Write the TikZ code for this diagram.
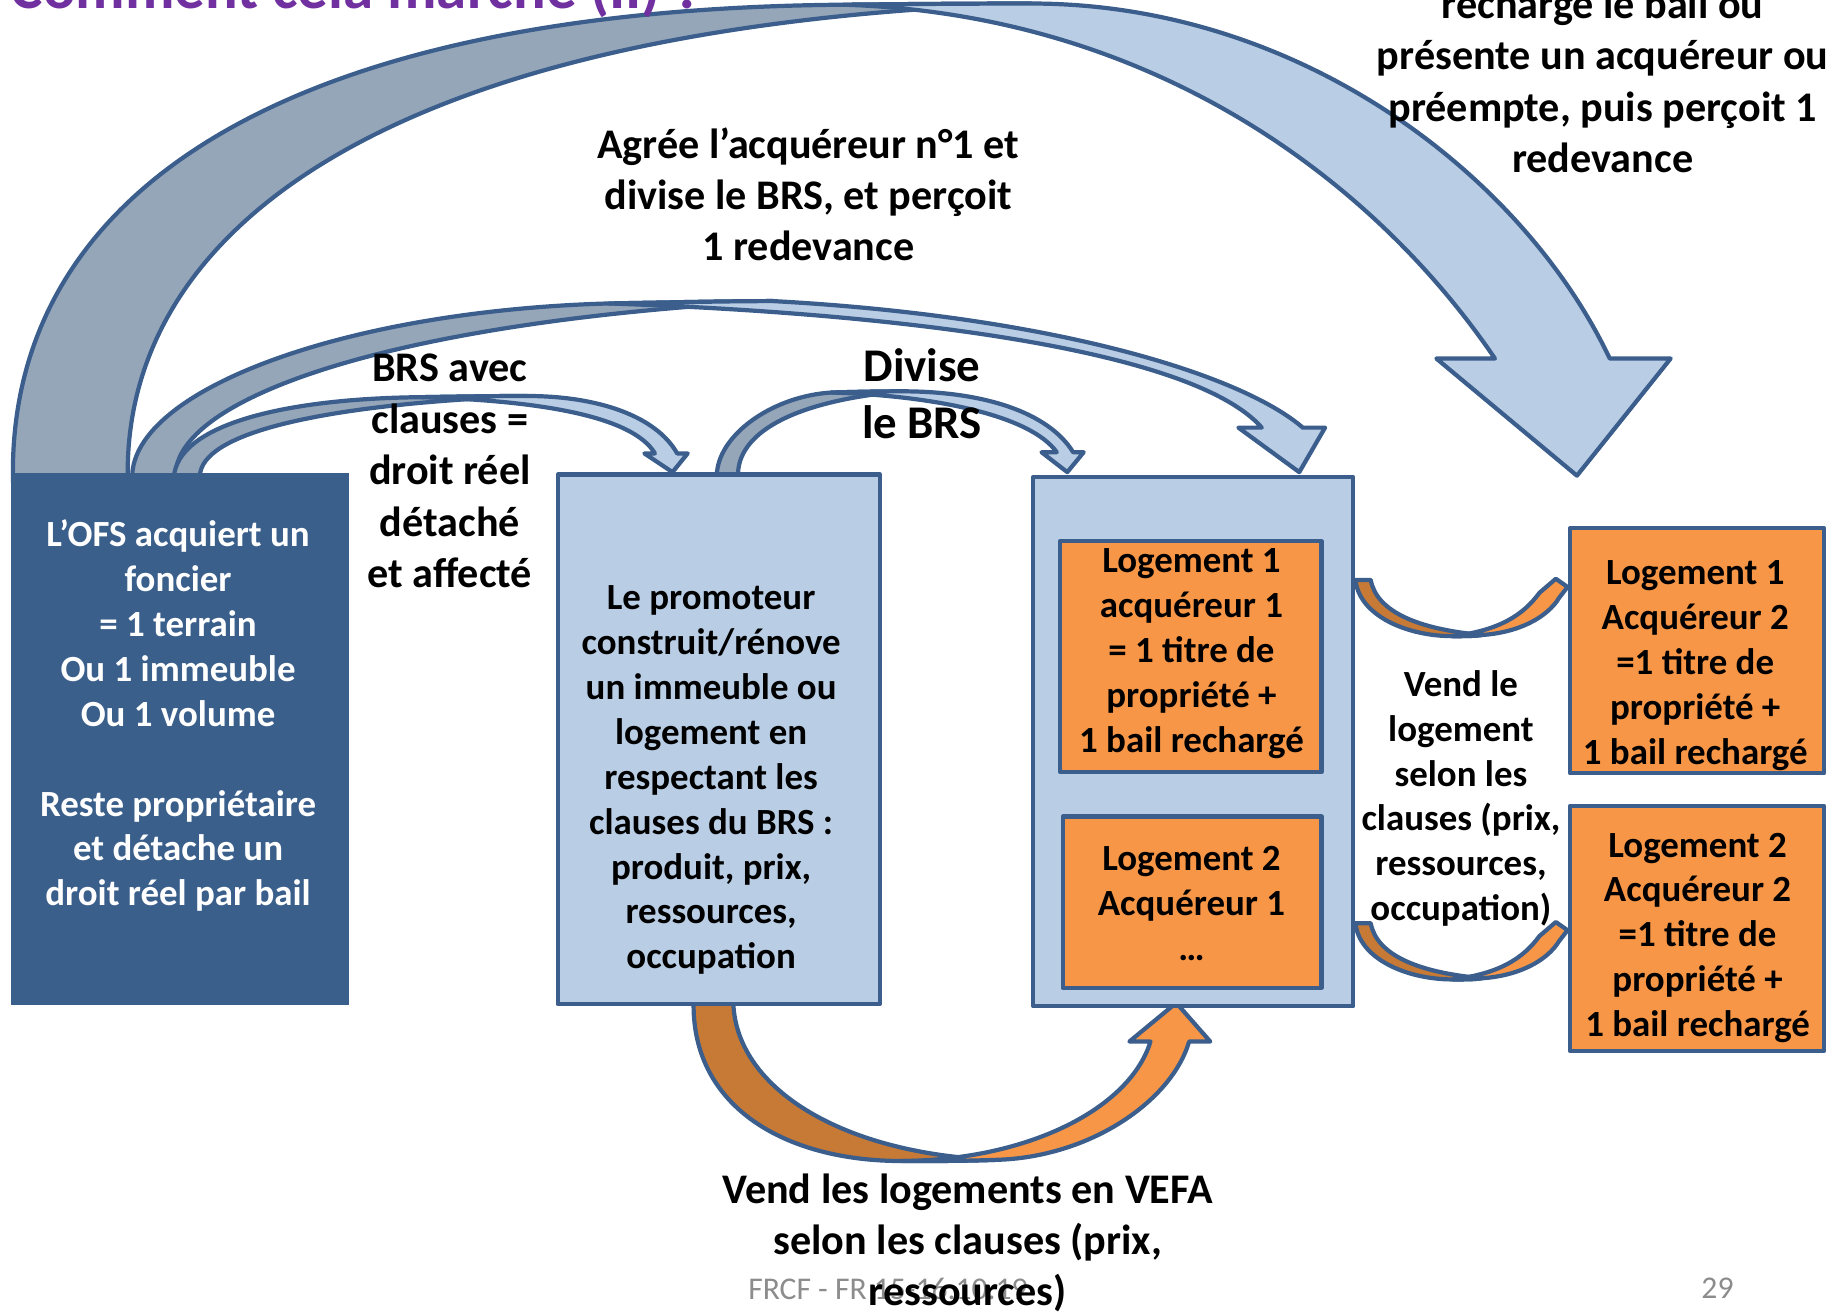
\documentclass[tikz,border=0pt]{standalone}
\usepackage{fontspec}
\setmainfont{Carlito}
\definecolor{bdr}{HTML}{3B5E8C}
\definecolor{dkbox}{HTML}{3A5F8B}
\definecolor{lblue}{HTML}{B9CDE5}
\definecolor{grayb}{HTML}{95A6B9}
\definecolor{orng}{HTML}{F79646}
\definecolor{dkorng}{HTML}{C67A36}
\definecolor{purp}{HTML}{7030A0}
\definecolor{footg}{HTML}{8C8C8C}
\tikzset{
  edge/.style={draw=bdr, line width=3.6pt, line join=round},
  backb/.style={edge, fill=grayb},
  frontb/.style={edge, fill=lblue},
  backo/.style={edge, fill=dkorng},
  fronto/.style={edge, fill=orng},
  boxbase/.style={rectangle, anchor=north west, inner sep=0pt, outer sep=0pt},
  lbox/.style={boxbase, edge, fill=lblue},
  obox/.style={boxbase, edge, fill=orng},
  dbox/.style={boxbase, fill=dkbox, draw=dkbox, line width=1pt},
  body/.style={align=center, inner sep=0pt, font=\fontsize{31.5}{38.3}\selectfont\bfseries},
  big/.style={align=center, inner sep=0pt, font=\fontsize{36}{43.7}\selectfont\bfseries},
}
\begin{document}
\begin{tikzpicture}[x=1pt,y=-1pt]
\useasboundingbox (0,0) rectangle (1568,1120);
\clip (0,0) rectangle (1568,1120);

% ---------- arrow A (outer, to the right) ----------
\path[backb] (11,412) -- (11,403) .. controls (11,165) and (240,8) .. (720,4)
  .. controls (773,3.5) and (827,3) .. (880,3)
  .. controls (320,22) and (109,200) .. (109,403) -- (109,412) -- cycle;
\path[frontb] (720,4) .. controls (773,3.5) and (827,3) .. (880,3)
  .. controls (1110,3) and (1300,150) .. (1374,306)
  -- (1426,306) -- (1346,406) -- (1226,306) -- (1276,306)
  .. controls (1170,150) and (980,12) .. (720,4) -- cycle;

% ---------- arrow B ----------
\path[backb] (113,412) -- (113,403) .. controls (120,330) and (300,265) .. (520,259)
  .. controls (580,258) and (620,257) .. (660,257)
  .. controls (330,275) and (155,340) .. (150,403) -- (150,412) -- cycle;
\path[frontb] (520,259) .. controls (580,258) and (620,257) .. (660,257)
  .. controls (900,270) and (1060,320) .. (1112,365)
  -- (1131,365) -- (1109,403) -- (1057,365) -- (1077,365)
  .. controls (1020,300) and (780,268) .. (520,259) -- cycle;

% ---------- arrow C ----------
\path[backb] (149,412) -- (149,403) .. controls (158,360) and (250,340) .. (360,339)
  .. controls (390,338.5) and (420,338) .. (450,338)
  .. controls (280,345) and (178,368) .. (171,403) -- (171,412) -- cycle;
\path[frontb] (360,339) .. controls (390,338.5) and (420,338) .. (450,338)
  .. controls (510,338) and (560,355) .. (578,387)
  -- (587,387) -- (574,403) -- (550,387) -- (559,387)
  .. controls (540,355) and (460,342) .. (360,339) -- cycle;

% ---------- arrow D ----------
\path[backb] (612,412) -- (612,403) .. controls (615,370) and (660,338) .. (710,335)
  .. controls (730,334.5) and (750,334) .. (770,334)
  .. controls (680,342) and (632,368) .. (630,403) -- (630,412) -- cycle;
\path[frontb] (710,335) .. controls (730,334.5) and (750,334) .. (770,334)
  .. controls (840,334) and (895,352) .. (916,386)
  -- (925,386) -- (911,403) -- (889,386) -- (902,386)
  .. controls (880,355) and (800,338) .. (710,335) -- cycle;

% ---------- arrow E (bottom, VEFA) ----------
\path[backo] (592,850) -- (592,858) .. controls (592,945) and (670,991) .. (770,991)
  .. controls (797,991) and (823,991) .. (850,990)
  .. controls (720,985) and (630,930) .. (626,858) -- (626,850) -- cycle;
\path[fronto] (770,991) .. controls (797,991) and (823,991) .. (850,990)
  .. controls (930,988) and (1000,940) .. (1015,889)
  -- (1033,889) -- (1004,856) -- (964,889) -- (982,889)
  .. controls (965,945) and (880,990) .. (770,991) -- cycle;

% ---------- arrows F and G (small) ----------
\foreach \dy in {0, 293}{
  \begin{scope}[yshift=-\dy pt]
  \path[backo] (1150,495) -- (1157,495) .. controls (1160,525) and (1200,543) .. (1240,543)
    .. controls (1250,543) and (1258,543) .. (1265,542)
    .. controls (1210,537) and (1175,522) .. (1170,495) -- (1150,495) -- cycle;
  \path[fronto] (1240,543) .. controls (1250,543) and (1258,543) .. (1265,542)
    .. controls (1295,540) and (1320,528) .. (1331,510)
    -- (1338,501) -- (1328,494) -- (1314,506)
    .. controls (1300,525) and (1280,538) .. (1240,543) -- cycle;
  \end{scope}
}

% ---------- boxes ----------
\node[dbox, minimum width=287pt, minimum height=453pt] (ofs) at (10,404) {};
\node[lbox, minimum width=275pt, minimum height=452pt] (prom) at (476,405) {};
\node[lbox, minimum width=273pt, minimum height=452pt] (lots) at (882,407) {};
\node[obox, minimum width=223pt, minimum height=197pt] (lg1) at (905,462) {};
\node[obox, minimum width=221pt, minimum height=146pt] (lg2) at (907,697) {};
\node[obox, minimum width=217pt, minimum height=209pt] (ra) at (1340,451) {};
\node[obox, minimum width=217pt, minimum height=209pt] (rb) at (1340,688) {};

% ---------- texts ----------
\node[body, text=white] (tofs) at (152,611) {L’OFS acquiert un\\foncier\\= 1 terrain\\Ou 1 immeuble\\Ou 1 volume\\~\\Reste propriétaire\\et détache un\\droit réel par bail};
\node[body] (tprom) at (607,666) {Le promoteur\\construit/rénove\\un immeuble ou\\logement en\\respectant les\\clauses du BRS :\\produit, prix,\\ressources,\\occupation};
\node[body] (tlg1) at (1017,558) {Logement 1\\acquéreur 1\\= 1 titre de\\propriété +\\1 bail rechargé};
\node[body] (tlg2) at (1017,771) {Logement 2\\Acquéreur 1\\…};
\node[body] (tra) at (1447,568) {Logement 1\\Acquéreur 2\\=1 titre de\\propriété +\\1 bail rechargé};
\node[body] (trb) at (1449,800.5) {Logement 2\\Acquéreur 2\\=1 titre de\\propriété +\\1 bail rechargé};
\node[body] (tvend) at (1247,681.5) {Vend le\\logement\\selon les\\clauses (prix,\\ressources,\\occupation)};
\node[align=center, inner sep=0pt, font=\fontsize{36}{44}\selectfont\bfseries] (tbrs) at (384,402) {BRS avec\\clauses =\\droit réel\\détaché\\et affecté};
\node[align=center, inner sep=0pt, font=\fontsize{40}{48}\selectfont\bfseries] (tdiv) at (787,336) {Divise\\le BRS};
\node[big] (tagr) at (690,166) {Agrée l’acquéreur n°1 et\\divise le BRS, et perçoit\\1 redevance};
\node[big] (trech) at (1368,69) {recharge le bail ou\\présente un acquéreur ou\\préempte, puis perçoit 1\\redevance};

% footer and title
\node[inner sep=0pt, text=footg, font=\fontsize{27}{31}\selectfont] (foot) at (758,1100) {FRCF - FR 15-16.10.19};
\node[inner sep=0pt, text=footg, font=\fontsize{27}{31}\selectfont] (page) at (1466,1100) {29};
\node[big] (tvefa) at (826,1061) {Vend les logements en VEFA\\selon les clauses (prix,\\ressources)};
\node[anchor=base west, inner sep=0pt, text=purp, font=\fontsize{52}{60}\selectfont\bfseries] (title) at (9,7.5) {Comment cela marche (II) ?};
\end{tikzpicture}
\end{document}
